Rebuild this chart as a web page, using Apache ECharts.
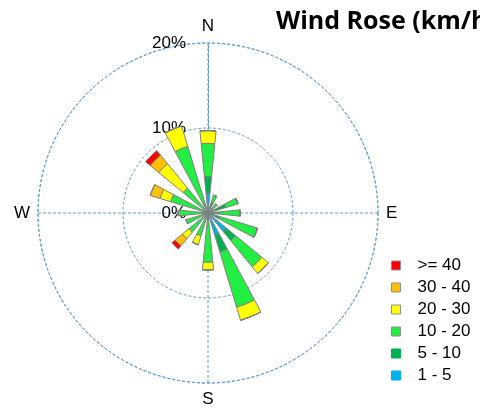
<!DOCTYPE html>
<html>
<head>
<meta charset="utf-8">
<script src="https://cdn.jsdelivr.net/npm/echarts@6/dist/echarts.min.js"></script>
<style>
  html, body { margin: 0; padding: 0; background: #fff; }
  #chart { width: 480px; height: 408px; }
</style>
</head>
<body>
<div id="chart"></div>
<script>
// 风向（16方位，从北顺时针）
var directions = ['N', 'NNE', 'NE', 'ENE', 'E', 'ESE', 'SE', 'SSE', 'S', 'SSW', 'SW', 'WSW', 'W', 'WNW', 'NW', 'NNW'];
var compassLabels = ['N', 'E', 'S', 'W'];
var radiusTicks = [0, 10, 20];

// 各风速段频率 (%)
var speed1to5   = [2.3, 0.3, 0.2, 0.3, 0.3, 0.5, 2.8, 2.7, 0.2, 0.1, 0.1, 0.1, 0.1, 0.1, 0.1, 0.3];
var speed5to10  = [2.0, 1.0, 0.6, 1.9, 1.0, 1.0, 1.4, 2.1, 0.8, 0.5, 0.5, 0.6, 0.6, 0.6, 0.5, 0.8];
var speed10to20 = [3.9, 0.9, 0.6, 1.5, 2.5, 4.6, 4.0, 6.8, 4.8, 2.2, 2.3, 2.0, 2.8, 3.9, 3.2, 7.1];
var speed20to30 = [1.5, 0, 0, 0, 0, 0, 1.0, 1.6, 0.9, 1.1, 1.0, 0, 0, 1.3, 3.7, 2.5];
var speed30to40 = [0, 0, 0, 0, 0, 0, 0, 0, 0, 0, 1.1, 0, 0, 1.2, 1.3, 0];
var speed40up   = [0, 0, 0, 0, 0, 0, 0, 0, 0, 0, 0.5, 0, 0, 0, 0.7, 0];

var bands = [
	{name: '1 - 5',   data: speed1to5,   color: '#00b0f0', legendBorder: '#00b0f0'},
	{name: '5 - 10',  data: speed5to10,  color: '#00b050', legendBorder: '#00b050'},
	{name: '10 - 20', data: speed10to20, color: '#22ee44', legendBorder: '#909090'},
	{name: '20 - 30', data: speed20to30, color: '#ffff00', legendBorder: '#909090'},
	{name: '30 - 40', data: speed30to40, color: '#ffc000', legendBorder: '#909090'},
	{name: '>= 40',   data: speed40up,   color: '#ff0000', legendBorder: '#909090'}
];

var gridColor = '#5b9bd5';
var center = [208, 213];
var radius = 170;

var chart = echarts.init(document.getElementById('chart'));

var series = bands.map(function(b){
	return {
		name: b.name,
		type: 'bar',
		coordinateSystem: 'polar',
		polarIndex: 0,
		stack: 'wind',
		barCategoryGap: '50%',
		data: b.data,
		itemStyle: { color: b.color, borderColor: '#808080', borderWidth: 1 },
		emphasis: { disabled: true }
	};
});

//图例（从大到小）
var legendData = bands.slice().reverse().map(function(b){
	return { name: b.name, itemStyle: { borderColor: b.legendBorder, borderWidth: 1 } };
});

var option = {
	animation: false,
	title: {
		text: 'Wind Rose (km/h)',
		left: 271,
		top: 4,
		textStyle: { fontFamily: 'Open Sans', fontWeight: 'bold', fontSize: 25, color: '#000' }
	},
	legend: {
		orient: 'vertical',
		left: 386,
		top: 252,
		itemWidth: 9,
		itemHeight: 9,
		itemGap: 5,
		icon: 'rect',
		data: legendData,
		textStyle: { fontFamily: 'Liberation Sans', fontSize: 17, color: '#000', padding: [0, 0, 0, 12] }
	},
	polar: [
		{ center: center, radius: radius },
		{ center: center, radius: radius }
	],
	angleAxis: [
		{
			polarIndex: 0,
			type: 'category',
			data: directions,
			startAngle: 90 + 360 / directions.length / 2,
			show: false
		},
		{
			polarIndex: 1,
			type: 'value',
			min: 0,
			max: 360,
			interval: 90,
			startAngle: 90,
			axisLine: { lineStyle: { color: gridColor, type: [3, 2], width: 1 } },
			axisTick: { show: false },
			axisLabel: {
				margin: 8,
				fontFamily: 'Liberation Sans',
				fontSize: 17,
				color: '#000',
				formatter: function(v){ return compassLabels[v / 90] || ''; }
			},
			splitLine: { show: true, lineStyle: { color: gridColor, type: [3, 2], width: 1 } }
		}
	],
	radiusAxis: [
		{ polarIndex: 0, type: 'value', min: 0, max: 20, show: false },
		{
			polarIndex: 1,
			type: 'value',
			min: radiusTicks[0],
			max: radiusTicks[radiusTicks.length - 1],
			interval: 10,
			axisLine: { lineStyle: { color: gridColor, type: [3, 2] } },
			axisTick: { show: false },
			axisLabel: {
				margin: 22,
				fontFamily: 'Liberation Sans',
				fontSize: 17,
				color: '#000',
				formatter: '{value}%'
			},
			splitLine: { show: true, lineStyle: { color: gridColor, type: [3, 2] } }
		}
	],
	series: series
};

chart.setOption(option);
</script>
</body>
</html>
